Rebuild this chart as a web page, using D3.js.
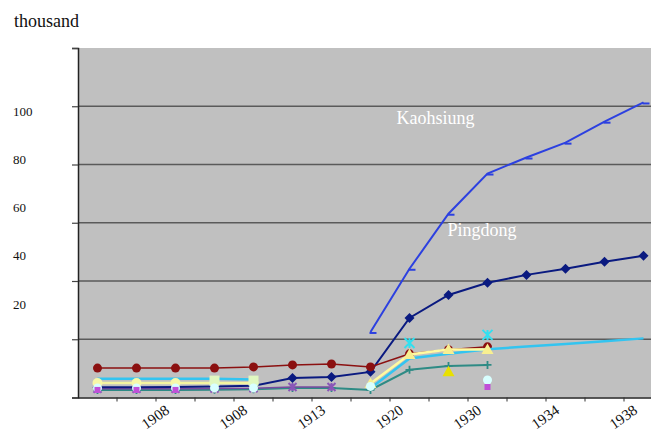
<!DOCTYPE html>
<html>
<head>
<meta charset="utf-8">
<script src="https://cdnjs.cloudflare.com/ajax/libs/d3/7.8.5/d3.min.js"></script>
<style>
body { margin: 0; background: #fff; }
svg { display: block; font-family: "Liberation Serif", "Times New Roman", serif; }
</style>
</head>
<body>
<div id="chart-area"></div>
<script>
// categories (15 periods), only every other one carries a label
var categories = d3.range(15);
var xTickLabels = ["", "", "1908", "", "1908", "", "1913", "", "1920", "", "1930", "", "1934", "", "1938"];
var yTickLabels = [20, 40, 60, 80, 100];
var yGrid = [0, 20, 40, 60, 80, 100, 120];

// values in thousands, null = no data
var kaohsiung  = [null, null, null, null, null, null, null, 22.5, 44.2, 63.1, 76.9, 82.4, 87.5, 94.7, 101.3];
var pingdong   = [3.5, 3.5, 3.6, 3.8, 4.0, 6.7, 7.0, 8.8, 27.3, 35.2, 39.4, 42.1, 44.2, 46.6, 48.7];
var darkRed    = [10.1, 10.1, 10.1, 10.1, 10.5, 11.2, 11.5, 10.5, 15.0, 16.4, 17.4, null, null, null, null];
var skyBlue    = [6.4, 6.4, 6.4, 6.4, 6.2, null, null, 3.2, 13.4, 15.0, 16.6, 17.5, 18.4, 19.3, 20.3];
var paleYellow = [5.0, 5.0, 5.0, 5.0, 5.0, null, null, null, null, null, null, null, null, null, null];
var yellowTri  = [null, null, null, null, null, null, null, 4.8, 14.8, 16.5, 16.5, null, null, null, null];
var teal       = [2.6, 2.6, 2.6, 2.7, 2.8, 3.3, 3.3, 2.6, 9.5, 10.8, 11.2, null, null, null, null];
var purple     = [3.0, 3.0, 3.0, 3.1, 3.2, 3.6, 3.6, null, null, null, null, null, null, null, null];
var paleGreen  = [null, null, null, 5.8, 5.8, null, null, null, null, null, null, null, null, null, null];
var lightCyan  = [3.3, 3.3, 3.3, 3.3, 3.3, null, null, 3.8, null, null, 6.0, null, null, null, null];
var magenta    = [2.6, 2.6, 2.6, null, null, null, null, null, null, null, 3.6, null, null, null, null];
var yellow     = [null, null, null, null, null, null, null, null, null, 8.8, null, null, null, null, null];
var cyanX      = [null, null, null, null, null, null, null, null, 18.7, null, 21.5, null, null, null, null];

var series = [
    {values: teal, color: "#2e8b85", width: 2, marker: "plus", mcolor: "#2e8b85", size: 4},
    {values: purple, color: "#7a4aa0", width: 1.5, marker: "star", mcolor: "#8a55b8", size: 4},
    {values: pingdong, color: "#0a1a80", width: 2, marker: "diamond", mcolor: "#0a1a80", size: 5},
    {values: darkRed, color: "#8b1010", width: 1.5, marker: "circle", mcolor: "#8b1010", size: 4.5},
    {values: skyBlue, color: "#33c4f0", width: 2.5, marker: "none", mcolor: "#33c4f0", size: 0},
    {values: paleYellow, color: "#f4f4a0", width: 2.5, marker: "circle", mcolor: "#f8f8a8", size: 5},
    {values: yellowTri, color: "#fffaa0", width: 2.5, marker: "triangle", mcolor: "#f8ef90", size: 6},
    {values: paleGreen, color: "#e4f8c0", width: 0, marker: "square", mcolor: "#e0f8c0", size: 5},
    {values: lightCyan, color: "#d8ffff", width: 0, marker: "circle", mcolor: "#d8ffff", size: 4.5},
    {values: magenta, color: "#c050d8", width: 0, marker: "square", mcolor: "#c050d8", size: 3},
    {values: yellow, color: "#e8e000", width: 0, marker: "triangle", mcolor: "#e8e000", size: 6},
    {values: cyanX, color: "#30e0f0", width: 0, marker: "star", mcolor: "#30e0f0", size: 5},
    {values: kaohsiung, color: "#2c40e0", width: 2, marker: "dash", mcolor: "#2c40e0", size: 4}
];

var W = 651, H = 432;
var plot = {left: 78, top: 48, bottom: 397.5};

var svg = d3.select("#chart-area").append("svg")
    .attr("width", W)
    .attr("height", H);

var x = d3.scaleBand()
    .domain(categories)
    .range([plot.left, plot.left + 39 * categories.length]);

var y = d3.scaleLinear()
    .domain([0, 120])
    .range([plot.bottom, plot.top]);

// where the value labels sit on the left (they drift from the gridlines in the original)
var yLabelPos = d3.scaleLinear()
    .domain([20, 100])
    .range([304, 111]);

function cx(i) { return x(i) + x.bandwidth() / 2; }

// plot background
svg.append("rect")
    .attr("x", plot.left)
    .attr("y", plot.top)
    .attr("width", W - plot.left)
    .attr("height", plot.bottom - plot.top)
    .attr("fill", "#c0c0c0");

// gridlines
svg.selectAll(".grid")
    .data(yGrid.slice(1, -1))
    .enter().append("line")
    .attr("x1", plot.left).attr("x2", W)
    .attr("y1", function(d){ return y(d); })
    .attr("y2", function(d){ return y(d); })
    .attr("stroke", "#5a5a5a")
    .attr("stroke-width", 1.3);

// y axis (ticks only, labels placed separately)
svg.append("g")
    .attr("transform", "translate(" + plot.left + ",0)")
    .call(d3.axisLeft(y).tickValues(yGrid).tickSize(6).tickFormat(""))
    .call(function(g){
        g.select(".domain").attr("stroke", "#222").attr("stroke-width", 1.5);
        g.selectAll(".tick line").attr("stroke", "#444").attr("stroke-width", 1.2);
    });

// x axis
svg.append("g")
    .attr("transform", "translate(0," + plot.bottom + ")")
    .call(d3.axisBottom(x).tickSize(0).tickFormat(""))
    .call(function(g){
        g.select(".domain").attr("stroke", "#222").attr("stroke-width", 1.5);
    });

svg.selectAll(".xtick")
    .data(categories.slice(1))
    .enter().append("line")
    .attr("x1", function(d){ return x(d); })
    .attr("x2", function(d){ return x(d); })
    .attr("y1", plot.bottom)
    .attr("y2", plot.bottom + 4)
    .attr("stroke", "#333");

// x labels, rotated
svg.selectAll(".xlabel")
    .data(categories.filter(function(d){ return xTickLabels[d] !== ""; }))
    .enter().append("text")
    .attr("transform", function(d){
        return "translate(" + (cx(d) - 5) + "," + (plot.bottom + 15) + ") rotate(-35)";
    })
    .attr("text-anchor", "end")
    .attr("font-size", 15)
    .attr("fill", "#111")
    .text(function(d){ return xTickLabels[d]; });

// y labels
svg.selectAll(".ylabel")
    .data(yTickLabels)
    .enter().append("text")
    .attr("x", 13)
    .attr("y", function(d){ return yLabelPos(d); })
    .attr("dy", "0.35em")
    .attr("font-size", 13)
    .attr("fill", "#111")
    .text(function(d){ return d; });

svg.append("text")
    .attr("x", 14)
    .attr("y", 27)
    .attr("font-size", 18)
    .attr("fill", "#111")
    .text("thousand");

var plotArea = svg.append("g");

var line = d3.line()
    .defined(function(d){ return d != null; })
    .x(function(d, i){ return cx(i); })
    .y(function(d){ return y(d); });

function markerPath(type, r) {
    if (type == "circle") return d3.symbol().type(d3.symbolCircle).size(Math.PI * r * r)();
    if (type == "diamond") return "M0," + (-r) + "L" + r + ",0L0," + r + "L" + (-r) + ",0Z";
    if (type == "triangle") return "M0," + (-r) + "L" + r + "," + (r * 0.75) + "L" + (-r) + "," + (r * 0.75) + "Z";
    if (type == "square") return "M" + (-r) + "," + (-r) + "H" + r + "V" + r + "H" + (-r) + "Z";
    return null;
}

series.forEach(function(s){
    if (s.width > 0) {
        plotArea.append("path")
            .datum(s.values)
            .attr("d", line)
            .attr("fill", "none")
            .attr("stroke", s.color)
            .attr("stroke-width", s.width);
    }
    var pts = s.values.map(function(v, i){ return {v: v, i: i}; })
        .filter(function(p){ return p.v != null; });
    var g = plotArea.selectAll(null)
        .data(pts)
        .enter().append("g")
        .attr("transform", function(p){ return "translate(" + cx(p.i) + "," + y(p.v) + ")"; });
    var r = s.size;
    if (s.marker == "plus") {
        g.append("path").attr("d", "M" + (-r) + ",0H" + r + "M0," + (-r) + "V" + r)
            .attr("stroke", s.mcolor).attr("stroke-width", 1.8);
    } else if (s.marker == "star") {
        g.append("path").attr("d", "M" + (-r) + "," + (-r) + "L" + r + "," + r + "M" + (-r) + "," + r + "L" + r + "," + (-r) + "M0," + (-r) + "V" + r)
            .attr("stroke", s.mcolor).attr("stroke-width", 2);
    } else if (s.marker == "dash") {
        g.append("path").attr("d", "M-1,1H6")
            .attr("stroke", s.mcolor).attr("stroke-width", 2);
    } else if (s.marker != "none") {
        g.append("path").attr("d", markerPath(s.marker, r))
            .attr("fill", s.mcolor);
    }
});

// series names
svg.append("text")
    .attr("x", cx(8) - 13)
    .attr("y", y(94))
    .attr("font-size", 18)
    .attr("fill", "#fff")
    .text("Kaohsiung");

svg.append("text")
    .attr("x", cx(9) - 1)
    .attr("y", y(55.5))
    .attr("font-size", 18)
    .attr("fill", "#fff")
    .text("Pingdong");
</script>
</body>
</html>
